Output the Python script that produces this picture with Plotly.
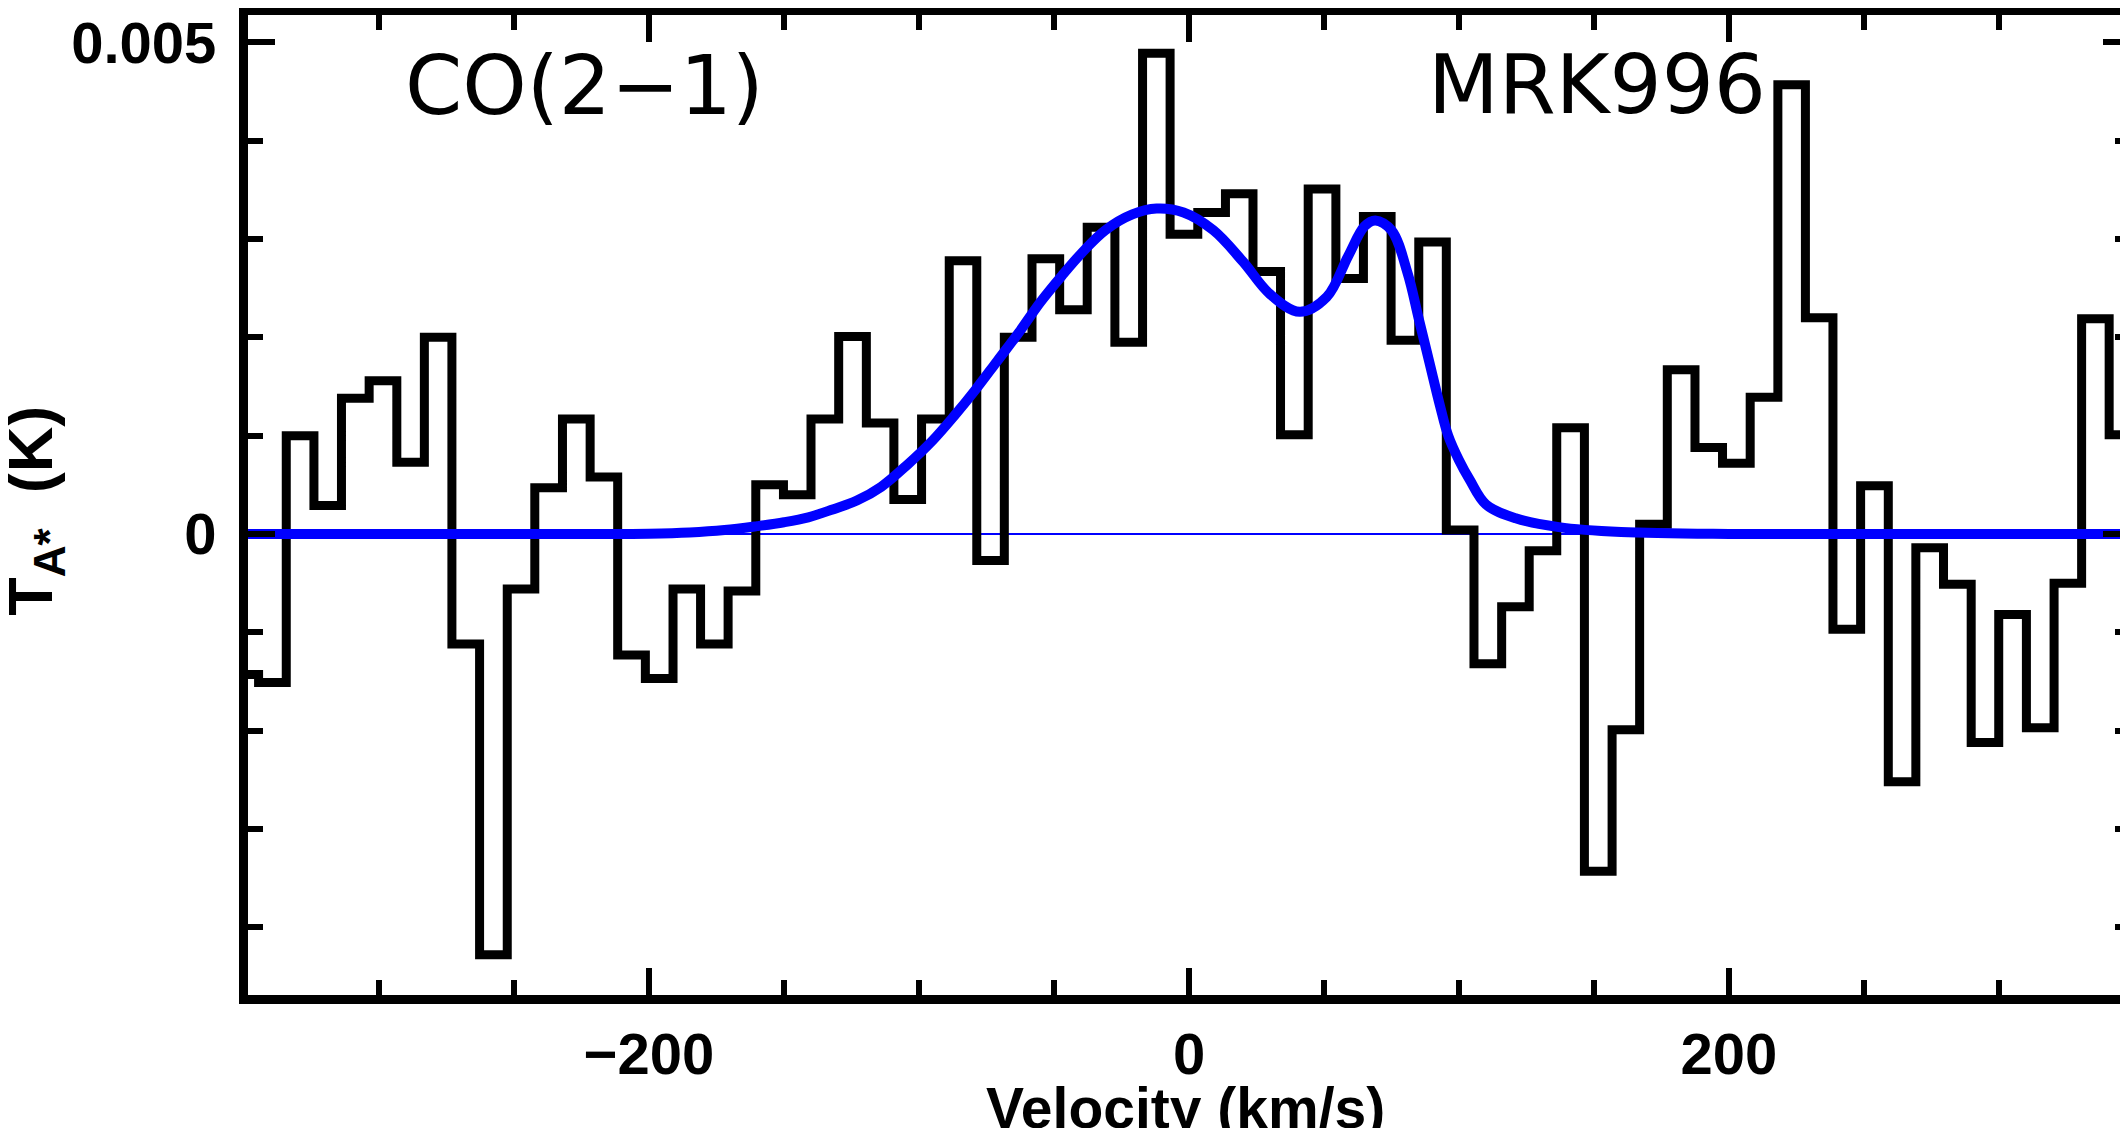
import plotly.graph_objects as go

#%% Spectrum data (CO(2-1), MRK996)

# channel centres (km/s)
velocity = [-349.7, -339.5, -329.2, -319.0, -308.8, -298.5, -288.3, -278.1, -267.9, -257.6,
            -247.4, -237.2, -226.9, -216.7, -206.5, -196.2, -186.0, -175.8, -165.6, -155.3,
            -145.1, -134.9, -124.6, -114.4, -104.2, -93.9, -83.7, -73.5, -63.3, -53.0,
            -42.8, -32.6, -22.3, -12.1, -1.9, 8.4, 18.6, 28.8, 39.0, 49.3,
            59.5, 69.7, 80.0, 90.2, 100.4, 110.7, 120.9, 131.1, 141.3, 151.6,
            161.8, 172.0, 182.3, 192.5, 202.7, 213.0, 223.2, 233.4, 243.6, 253.9,
            264.1, 274.3, 284.6, 294.8, 305.0, 315.3, 325.5, 335.7, 345.9]

# antenna temperature per channel (K)
t_ant = [-0.00143, -0.00151, 0.00100, 0.00029, 0.00138, 0.00156, 0.00073, 0.00200, -0.00112, -0.00428,
         -0.00056, 0.00047, 0.00117, 0.00058, -0.00123, -0.00147, -0.00056, -0.00112, -0.00058, 0.00050,
         0.00040, 0.00117, 0.00201, 0.00113, 0.00035, 0.00117, 0.00278, -0.00027, 0.00200, 0.00280,
         0.00228, 0.00312, 0.00195, 0.00489, 0.00305, 0.00327, 0.00346, 0.00267, 0.00101, 0.00351,
         0.00260, 0.00323, 0.00197, 0.00297, 0.00004, -0.00132, -0.00074, -0.00017, 0.00108, -0.00343,
         -0.00199, 0.00010, 0.00167, 0.00088, 0.00072, 0.00139, 0.00457, 0.00220, -0.00097, 0.00049,
         -0.00252, -0.00014, -0.00051, -0.00212, -0.00082, -0.00197, -0.00050, 0.00219, 0.00101]

# fitted profile
fit_v = [-350, -300, -250, -220, -200, -185, -172, -160, -150, -141, -132, -123, -114, -104.5,
         -95, -87, -79, -71, -63, -55, -47, -39, -31, -21, -12, -2, 9, 20, 30, 41, 51, 59, 65,
         69, 75, 81, 85, 89, 93, 96, 100, 104, 110, 121, 137, 160, 200, 250, 300, 350]
fit_t = [0, 0, 0, 0, 0.000003, 0.000015, 0.00004, 0.00008, 0.00012, 0.00017, 0.00025, 0.00034,
         0.00048, 0.00070, 0.00095, 0.00120, 0.00147, 0.00176, 0.00205, 0.00236, 0.00263, 0.00288,
         0.00309, 0.00325, 0.00331, 0.00327, 0.00309, 0.00277, 0.00244, 0.00226, 0.00241, 0.00283,
         0.00313, 0.00319, 0.00309, 0.00265, 0.00220, 0.00175, 0.00130, 0.00100, 0.00075, 0.00055,
         0.00030, 0.00016, 0.00007, 0.00002, 0, 0, 0, 0]

x_ticks = [-200, 0, 200]
x_ticktext = ['\u2212200', '0', '200']
y_ticks = [0, 0.005]
y_ticktext = ['0', '0.005']

#%% Step outline from channel centres

half = (velocity[1] - velocity[0]) / 2
edges = [velocity[0] - half] + [(a + b) / 2 for a, b in zip(velocity[:-1], velocity[1:])]
step_x = edges + [velocity[-1] + half]
step_y = t_ant + [t_ant[-1]]

#%% Figure

fig = go.Figure()

fig.add_trace(go.Scatter(x=step_x, y=step_y, mode='lines', line_shape='hv',
                         line=dict(color='black', width=9)))
fig.add_trace(go.Scatter(x=fit_v, y=fit_t, mode='lines', line_shape='spline',
                         line=dict(color='#0000ff', width=10)))

tick_font = dict(family='Liberation Sans, Arial, sans-serif', size=58, color='black', weight='bold')
title_font = dict(family='Liberation Sans, Arial, sans-serif', size=57, color='black', weight='bold')
ytitle_font = dict(family='Liberation Sans, Arial, sans-serif', size=63, color='black', weight='bold')
label_font = dict(family='DejaVu Sans, sans-serif', size=82, color='black')

axis_common = dict(showline=True, linewidth=9, linecolor='black', mirror='allticks',
                   ticks='inside', tickwidth=6, tickcolor='black', showgrid=False,
                   automargin=False, tickfont=tick_font)

fig.update_layout(
    width=2128, height=1128,
    margin=dict(l=240, r=6, t=7, b=141),
    plot_bgcolor='white', paper_bgcolor='white',
    showlegend=False,
    xaxis=dict(range=[-348.52, 348.52], tickvals=x_ticks, ticktext=x_ticktext, ticklen=27,
               zeroline=False, ticklabelstandoff=0,
               minor=dict(dtick=50, tick0=0, ticks='inside', ticklen=15, tickwidth=6,
                          tickcolor='black'),
               **axis_common),
    yaxis=dict(range=[-0.004689, 0.005279], tickvals=y_ticks, ticktext=y_ticktext, ticklen=27,
               zeroline=True, zerolinecolor='#0000ff', zerolinewidth=2, ticklabelstandoff=11,
               minor=dict(dtick=0.001, tick0=0, ticks='inside', ticklen=15, tickwidth=6,
                          tickcolor='black'),
               **axis_common),
)

fig.add_annotation(text='CO(2\u22121)', xref='paper', yref='paper', x=0.179, y=0.928,
                   xanchor='center', yanchor='middle', showarrow=False, font=label_font)
fig.add_annotation(text='MRK996', xref='paper', yref='paper', x=0.717, y=0.929,
                   xanchor='center', yanchor='middle', showarrow=False, font=label_font)
fig.add_annotation(text='Velocity (km/s)', xref='paper', yref='paper', x=0.498, y=-0.115,
                   xanchor='center', yanchor='middle', showarrow=False, font=title_font)
fig.add_annotation(text='T<sub>A*</sub>\u00a0 (K)', xref='paper', yref='paper', x=-0.1132, y=0.494,
                   xanchor='center', yanchor='middle', textangle=-90, showarrow=False,
                   font=ytitle_font)

fig.write_html("out.html")
